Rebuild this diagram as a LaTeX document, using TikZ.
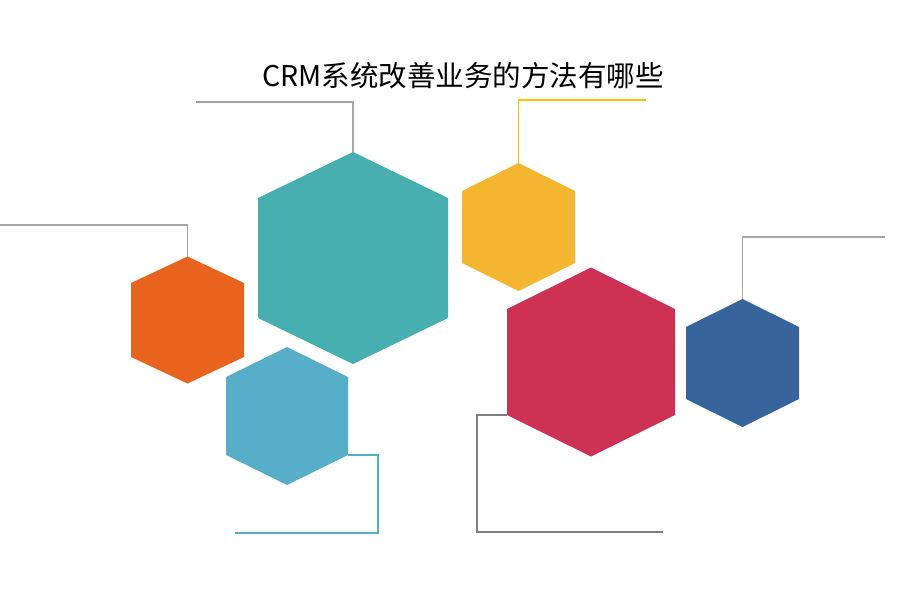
\documentclass[tikz,border=0pt]{standalone}
\usepackage{fontspec}
\usepackage{tikz}
\usetikzlibrary{positioning}
\newfontfamily\cjk{Noto Sans CJK SC}
\definecolor{mteal}{HTML}{47AFAF}
\definecolor{morange}{HTML}{E8641E}
\definecolor{mlblue}{HTML}{56AEC8}
\definecolor{myellow}{HTML}{F4B531}
\definecolor{mred}{HTML}{CD3255}
\definecolor{mblue}{HTML}{36649B}
\definecolor{mgray}{HTML}{A6A6A6}
\definecolor{mdgray}{HTML}{7F7F7F}
\definecolor{mgold}{HTML}{FFC000}
% name, centre, half width, half height, half side, colour
\newcommand{\hexcell}[6]{%
  \begin{scope}[shift={#2}]
    \fill[#6] (0,-#4) coordinate (#1-top) -- (#3,-#5) coordinate (#1-ne)
      -- (#3,#5) coordinate (#1-se) -- (0,#4) coordinate (#1-bot)
      -- (-#3,#5) coordinate (#1-sw) -- (-#3,-#5) coordinate (#1-nw) -- cycle;
  \end{scope}}
\tikzset{leader/.style={line width=1.8pt}}

\begin{document}
\begin{tikzpicture}[x=1pt, y=-1pt]
      \useasboundingbox (0,0) rectangle (900,600);
      \node[anchor=base] (title) at (463,86.5) {\cjk\fontsize{28.5}{32}\selectfont CRM系统改善业务的方法有哪些};
      \hexcell{teal}{(353,258)}{95}{106}{60}{mteal}
      \hexcell{orange}{(187.5,320)}{56.5}{63.5}{37}{morange}
      \hexcell{lblue}{(287,416)}{61}{69}{39}{mlblue}
      \hexcell{yellow}{(518.5,227)}{56.5}{64}{36}{myellow}
      \hexcell{red}{(591,362)}{84}{94.5}{53}{mred}
      \hexcell{blue}{(742.5,363)}{56.5}{64}{36}{mblue}
      \coordinate (teal-end) at (196,102);
      \coordinate (orange-end) at (0,225);
      \coordinate (yellow-end) at (646,100);
      \coordinate (blue-end) at (885,237);
      \coordinate (lblue-end) at (235,533);
      \coordinate (red-end) at (663,532);
      \draw [leader, mgray] (teal-top) |- (teal-end);
      \draw [leader, mgray] (orange-top) |- (orange-end);
      \draw [leader, mgold] (yellow-top) |- (yellow-end);
      \draw [leader, mgray] (blue-top) |- (blue-end);
      \draw [leader, mlblue] (lblue-se) -- ++(30,0) |- (lblue-end);
      \draw [leader, mdgray] (red-sw) -- ++(-30,0) |- (red-end);
    \end{tikzpicture}
\end{document}
